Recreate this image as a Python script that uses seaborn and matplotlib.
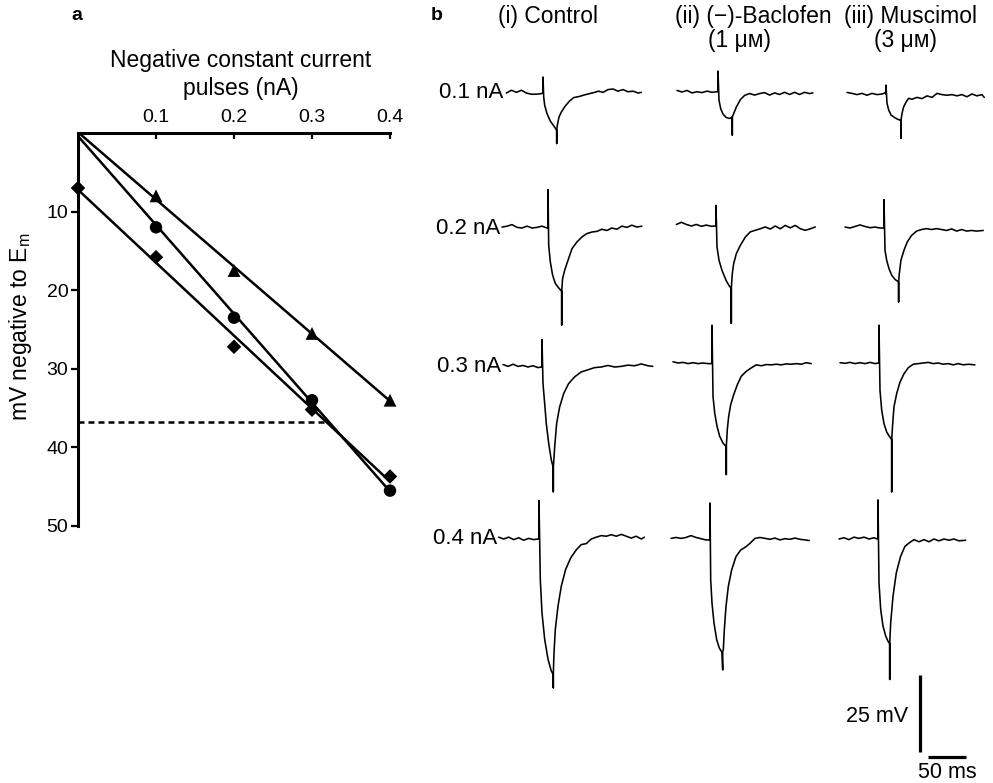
import numpy as np
import seaborn as sns
import matplotlib
matplotlib.use('Agg')
import matplotlib.pyplot as plt

sns.set_theme(style='white')
plt.rcParams['font.family'] = ['Liberation Sans', 'DejaVu Sans']
plt.rcParams['mathtext.fontset'] = 'custom'
plt.rcParams['mathtext.rm'] = 'Liberation Sans'
plt.rcParams['mathtext.it'] = 'Liberation Sans'
plt.rcParams['text.color'] = 'black'
plt.rcParams['xtick.color'] = 'black'
plt.rcParams['ytick.color'] = 'black'

# ---- panel a: voltage deflection vs injected current ----
current_nA = [0.1, 0.2, 0.3, 0.4]
triangles_mv = [8.0, 17.5, 25.5, 34.0]
circles_mv = [12.0, 23.5, 34.0, 45.5]
diamond_current_nA = [0.0, 0.1, 0.2, 0.3, 0.4]
diamonds_mv = [7.0, 15.8, 27.2, 35.2, 43.7]
threshold_mv = 36.8

# ---- panel b: voltage traces, (ms from pulse onset, mV from baseline) ----
control_01 = [(-47.6, 0), (-41, 0.9), (-34.6, 0.2), (-28, 0.9), (-21.7, 0), (-15, -0.4), (-8.7, -0.4),
              (-2.2, -0.2), (0, 0), (0, 5.2), (0.9, -1.3), (2.2, -4), (5.2, -6.7), (9.5, -9.1),
              (14.3, -10.8), (17.8, -12.1), (17.8, -16.4), (17.8, -12.1), (18.6, -10.5), (20.8, -7.8),
              (23.8, -6.2), (29, -4.2), (34.6, -2.6), (39.8, -1.5), (47.6, -1.1), (54.1, -0.6),
              (60.6, -0.2), (67, 0.2), (72.3, 0.6), (78, 0.2), (84.4, 1.1), (91, 1.3), (97.4, 0.6),
              (104, 1.1), (110.5, 0.4), (117, 0.6), (123.5, 0), (127.8, 0.2)]
control_02 = [(-59.8, 0.3), (-53, 0.6), (-46.8, 1.1), (-40.3, 0.2), (-33.8, 0), (-27.3, 0.6), (-20.8, 0),
              (-14.3, 0.2), (-7.8, 0.6), (-1.3, 0), (0, 0), (0, 12.5), (0.9, -5.6), (3, -11), (6, -15.3),
              (9.5, -18), (14.7, -19.7), (17.8, -20.5), (17.8, -31.5), (17.8, -20.5), (19, -16.4),
              (21.7, -13.7), (26, -10.5), (31.2, -6.7), (37.7, -4.5), (44.2, -2.9), (50.6, -1.8),
              (57.2, -1.3), (63.6, -1.1), (70, -0.4), (76.6, -0.8), (83, 0), (89.6, -0.4), (96, 0.6),
              (102.6, 0.2), (109, 0.9), (115.6, 0.3), (122, 0.6)]
control_03 = [(-50.7, 0.8), (-44, 0.2), (-37.7, 0.9), (-31.2, 0.2), (-24.7, 0.5), (-18.2, 0), (-11.7, 0.4),
              (-5.2, -0.2), (-0.9, 0), (0, 0), (0, 8.9), (1.3, -5.4), (3.5, -11.9), (5.6, -18.4),
              (8.7, -24.8), (12.1, -30.2), (14.7, -32.7), (14.7, -40.5), (14.7, -32.7), (16.5, -25.9),
              (19, -18.4), (22.9, -13), (28.2, -8.6), (34.6, -5.4), (42.4, -3.2), (51, -1.6),
              (59.8, -0.9), (68.4, -0.2), (77, 0), (85.8, 0.5), (94.5, 0), (103, 0.2), (111.7, 0.6),
              (120.4, 0.4), (129, 1), (137.8, 0.4), (144, 0.2)]
control_04 = [(-52.4, 0.6), (-45.9, 0), (-39.4, 0.6), (-32.9, -0.2), (-26.4, 0.4), (-19.9, -0.4),
              (-13.4, 0.2), (-6.9, -0.2), (-1.3, 0), (0, 0), (0, 12.5), (1.7, -13.2), (3.9, -24),
              (7.4, -32.6), (11.7, -39), (16, -42.9), (18.6, -44), (18.6, -48.3), (18.6, -44),
              (19.5, -37), (21.2, -29.4), (24.7, -21.8), (29, -15.3), (34.6, -9.9), (41.1, -6.2),
              (48.5, -3.5), (55, -1.8), (61.5, -1.5), (68, 0), (74.5, 0.6), (81, 1.1), (87.5, 0.9),
              (94, 1.4), (100.5, 0.9), (107, 1.5), (113.5, 0.9), (120, 0.3), (126.4, 0.9), (133, 0),
              (137, 0.6)]
baclofen_01 = [(-53.3, 0.5), (-46.8, 0), (-40.3, 0.5), (-33.8, -0.3), (-27.3, 0.1), (-20.8, -0.2),
               (-14.3, 0.3), (-7.8, -0.1), (-1.3, 0.1), (0, 0), (0, 6.8), (1.3, -2.7), (3.5, -5.4),
               (6.5, -7.2), (10.8, -8.3), (15.2, -8.6), (18.6, -8.1), (18.6, -14), (18.6, -8.1),
               (20.4, -7), (23.8, -4.9), (29, -2.5), (34.6, -1.1), (41.1, -0.5), (47.6, -1), (54.1, -0.5),
               (60.6, -0.2), (67.1, -1), (73.6, -0.3), (80, -0.8), (86.6, -0.1), (93, -0.8), (99.6, -0.1),
               (106, -0.8), (112.6, -0.1), (119, -0.5), (123.4, -0.3)]
baclofen_02 = [(-51.5, 0.5), (-45, 1.2), (-38.5, 0.5), (-32, 0), (-25.6, 0.5), (-19, -0.1), (-12.6, 0.3),
               (-6, -0.1), (-0.9, 0), (0, 0), (0, 6.7), (1.3, -6.8), (3.9, -11.1), (7.8, -14.4),
               (13, -17.6), (17.3, -19.5), (19.9, -20.3), (19.9, -31.6), (19.9, -20.3), (21.2, -15.4),
               (23, -12.2), (26.4, -9), (31.6, -6.3), (38.1, -3.6), (44.6, -1.9), (51, -1.4), (57.6, -0.9),
               (64, -0.3), (70.6, -1), (77, 0), (83.6, -0.9), (90, 0.2), (96.7, -0.6), (103, 0.2),
               (109.7, -0.9), (116, -1.4), (122.7, -0.9), (129, -0.3)]
baclofen_03 = [(-50.7, 0.4), (-44.2, 0), (-37.7, 0.2), (-31.2, -0.2), (-24.7, 0.1), (-18.2, -0.2),
               (-11.7, 0), (-5.2, -0.2), (-0.9, -0.2), (0, 0), (0, 12.3), (1.3, -10.8), (3.5, -16.2),
               (6.5, -20.5), (10, -23.8), (14.3, -26), (18.6, -27.2), (18.6, -36.2), (18.6, -27.2),
               (19.9, -21.6), (21.7, -17.3), (24.3, -13.5), (28.2, -10.3), (33, -7), (38.1, -4.3),
               (44.6, -2.7), (51, -1.6), (57.6, -0.6), (64, -0.9), (70.6, -0.5), (77, -0.6), (83.6, -0.4),
               (90, -0.6), (96.6, -0.3), (103, -0.4), (109.7, -0.2), (116, -0.4), (122.7, 0.1), (129, -0.2)]
baclofen_04 = [(-50.7, 0.2), (-44.2, 0.5), (-37.7, 0.2), (-31.2, 0.5), (-24.7, 1.1), (-18.2, 0.5),
               (-11.7, 0.1), (-5.2, -0.3), (-0.9, -0.3), (0, 0), (0, 11.7), (0.9, -13.3), (2.6, -20.8),
               (5.2, -27.3), (8.7, -32.7), (12.1, -35.4), (15.6, -36.8), (16.5, -42.5), (16.5, -36.5),
               (17.3, -36), (18.6, -29.5), (20.8, -21.9), (23.8, -15.4), (28.2, -10), (33.8, -5.7),
               (39.8, -3.6), (46.8, -2.5), (52, -1.4), (58.5, 0.2), (65, 0.5), (71.5, 0.2), (78, -0.1),
               (84.4, 0.3), (91, -0.3), (97.4, 0.1), (104, -0.1), (110.5, 0.3), (117, -0.1),
               (123.4, -0.3), (129, -0.5)]
muscimol_01 = [(-50.7, 0.5), (-44.2, 0.2), (-37.7, -0.2), (-31.2, 0.2), (-24.7, -0.4), (-18.2, 0.2),
               (-11.7, -0.2), (-5.2, 0), (-0.9, 0.4), (0, 0), (0, 2.9), (1.3, -3), (3.5, -5.2), (6.5, -6.8),
               (10.8, -7.6), (15.2, -8.2), (19.5, -8.6), (19.5, -14.4), (19.5, -8.6), (20.8, -6.3),
               (23, -4.1), (26.4, -2.5), (29.4, -1.4), (33.8, -1.7), (40.3, -1.1), (46.8, -1.5),
               (53.3, -0.6), (59.8, -1.1), (66.3, 0.2), (72.7, -0.2), (79.2, -0.4), (85.8, -0.2),
               (92.3, -0.6), (98.7, -0.2), (105.2, -0.9), (111.7, 0), (118.2, -0.6), (124.7, -0.2),
               (127.7, -1.1)]
muscimol_02 = [(-50.7, 0.3), (-44.2, 0), (-37.7, 0.5), (-31.2, 1), (-24.7, 0.5), (-18.2, 0.1),
               (-11.7, 0.3), (-5.2, 0), (-0.9, 0), (0, 0), (0, 9.2), (1.3, -7.2), (3.5, -10.5),
               (6.5, -13.2), (10, -15.3), (14.3, -16.7), (19, -17.5), (19, -24), (19, -17.5),
               (19.9, -14.8), (22, -10.5), (26, -7.2), (30.3, -4.5), (35.9, -2.4), (42.4, -1),
               (48.9, -0.5), (55.4, -0.2), (61.9, -0.5), (68.4, -0.2), (74.9, -0.5), (81.4, -0.8),
               (87.9, -0.3), (94.4, -1), (101, -0.5), (107.4, -1), (114, -0.8), (120.4, -1), (129, -0.8)]
muscimol_03 = [(-50.7, 0.1), (-44.2, -0.1), (-37.7, 0.2), (-31.2, -0.2), (-24.7, 0.1), (-18.2, -0.2),
               (-11.7, 0.2), (-5.2, -0.2), (-0.9, 0), (0, 0), (0, 12.3), (1.3, -8.9), (3.5, -15.3),
               (6.5, -19.7), (10, -22.4), (13.4, -23.8), (16.5, -24.8), (16.5, -41.8), (16.5, -24.8),
               (17.8, -19.7), (19.5, -14.2), (23, -9.9), (27.3, -6.2), (32.5, -3.5), (38.1, -1.5),
               (44.6, -0.4), (51, -0.2), (57.6, 0), (64, 0.2), (70.6, -0.2), (77, 0), (83.6, -0.4),
               (90, -0.2), (96.6, -0.6), (103, -0.2), (109.6, -0.6), (116, -0.4), (124.7, -0.6)]
muscimol_04 = [(-50.7, 0), (-44.2, 0.4), (-37.7, -0.2), (-31.2, 0.6), (-24.7, 0.2), (-18.2, 0.6),
               (-11.7, 0), (-5.2, 0.4), (-0.9, 0), (0, 0), (0, 12.7), (1.3, -14.3), (3.5, -22.9),
               (6.5, -28.3), (10, -31.5), (13, -33.2), (15.2, -33.9), (15.2, -45.6), (15.2, -33.9),
               (16.5, -27.2), (19.5, -18.6), (23.8, -11), (29.4, -5.6), (35, -2.4), (40.3, -1.3),
               (46.8, -0.2), (53.3, -0.9), (59.8, -0.2), (66.3, -0.9), (72.7, 0), (79.2, -0.6),
               (85.8, 0), (92.3, -0.4), (98.7, 0), (105.2, -0.6), (113.9, -0.4)]

row_labels = ['0.1 nA', '0.2 nA', '0.3 nA', '0.4 nA']
col_titles = ['(i) Control', '(ii) (\u2212)-Baclofen', '(iii) Muscimol']
col_doses = ['', '(1 \u03bc\u1d0d)', '(3 \u03bc\u1d0d)']
scale_mv = 25
scale_ms = 50

# ---- layout (pixels of the 993x783 figure) ----
W, H = 993, 783
MS_PER_PX = 1.3
PX_PER_MV = 3.08
onset_px = [[543, 718, 886], [548, 716, 884], [542, 712, 879], [539, 710, 878]]
base_px = [[93, 92, 94], [228, 226, 228], [367, 363, 363], [539, 539, 539]]
row_label_right = [503, 500, 501, 497]


def fx(px):
    return px / W


def fy(py):
    return 1 - py / H


fig = plt.figure(figsize=(W / 100, H / 100), dpi=100)

# panel a
ax = fig.add_axes([fx(78), fy(526), (390 - 78) / W, (526 - 133) / H])
ax.set_xlim(0, 0.4)
ax.set_ylim(50, 0)

# fit lines (triangle & circle series are anchored at rest: 0 nA, 0 mV)
line_kws = dict(color='black', lw=1.8)
sns.regplot(x=[0.0] + current_nA, y=[0.0] + triangles_mv, ci=None, scatter=False,
            truncate=True, line_kws=line_kws, ax=ax)
sns.regplot(x=[0.0] + current_nA, y=[0.0] + circles_mv, ci=None, scatter=False,
            truncate=True, line_kws=line_kws, ax=ax)
sns.regplot(x=diamond_current_nA, y=diamonds_mv, ci=None, scatter=False,
            truncate=True, line_kws=line_kws, ax=ax)

slope, icpt = np.polyfit(diamond_current_nA, diamonds_mv, 1)
ax.plot([0, (threshold_mv - icpt) / slope], [threshold_mv, threshold_mv],
        color='black', lw=1.8, ls=(0, (2.4, 1.6)), clip_on=False)

sns.scatterplot(x=current_nA, y=triangles_mv, marker='^', s=85, color='black',
                edgecolor='none', clip_on=False, zorder=5, ax=ax)
sns.scatterplot(x=current_nA, y=circles_mv, marker='o', s=80, color='black',
                edgecolor='none', clip_on=False, zorder=5, ax=ax)
sns.scatterplot(x=diamond_current_nA, y=diamonds_mv, marker='D', s=55, color='black',
                edgecolor='none', clip_on=False, zorder=5, ax=ax)

for side in ['right', 'bottom']:
    ax.spines[side].set_visible(False)
for side in ['left', 'top']:
    ax.spines[side].set_linewidth(2.2)
    ax.spines[side].set_color('black')
ax.set_xticks(current_nA)
ax.set_xticklabels(['0.1', '0.2', '0.3', '0.4'])
ax.set_yticks([10, 20, 30, 40, 50])
ax.tick_params(axis='x', top=True, bottom=False, labeltop=True, labelbottom=False,
               direction='in', length=4, width=1.6, pad=5, labelsize=14)
ax.tick_params(axis='y', left=True, direction='out', length=5, width=1.6, pad=2,
               labelsize=14)
ax.set_xlabel('')
ax.set_ylabel('')

fig.text(fx(241), fy(60), 'Negative constant current', ha='center', va='center', fontsize=16.5)
fig.text(fx(241), fy(88), 'pulses (nA)', ha='center', va='center', fontsize=16.5)
fig.text(fx(21), fy(327), 'mV negative to E$_\\mathrm{m}$', rotation=90, ha='center',
         va='center', fontsize=16.5)
fig.text(fx(77), fy(15), 'a', fontsize=14, fontweight='bold', ha='center', va='center')

# panel b
axb = fig.add_axes([fx(480), 0, (W - 480) / W, 1])
axb.set_xlim(0, (W - 480) * MS_PER_PX)
axb.set_ylim(0, H / PX_PER_MV)
axb.axis('off')

traces = [[control_01, baclofen_01, muscimol_01],
          [control_02, baclofen_02, muscimol_02],
          [control_03, baclofen_03, muscimol_03],
          [control_04, baclofen_04, muscimol_04]]

for r, row in enumerate(traces):
    for c, tr in enumerate(row):
        x0 = (onset_px[r][c] - 480) * MS_PER_PX
        y0 = (H - base_px[r][c]) / PX_PER_MV
        t = np.array([p[0] for p in tr]) + x0
        v = np.array([p[1] for p in tr]) + y0
        sns.lineplot(x=t, y=v, sort=False, estimator=None, color='black', lw=1.15, ax=axb)
    fig.text(fx(row_label_right[r]), fy(base_px[r][0]), row_labels[r], ha='right',
             va='center', fontsize=16)

# scale bars
bx = (920 - 480) * MS_PER_PX
by = (H - 752) / PX_PER_MV
axb.plot([bx, bx], [by, by + scale_mv], color='black', lw=2.3, solid_capstyle='butt')
hx = (928 - 480) * MS_PER_PX
hy = (H - 757) / PX_PER_MV
axb.plot([hx, hx + scale_ms], [hy, hy], color='black', lw=2.3, solid_capstyle='butt')
fig.text(fx(908), fy(716), f'{scale_mv} mV', ha='right', va='center', fontsize=15.5)
fig.text(fx(947), fy(772), f'{scale_ms} ms', ha='center', va='center', fontsize=15.5)

fig.text(fx(437), fy(15), 'b', fontsize=14, fontweight='bold', ha='center', va='center')
title_x = [548, 753, 910]
dose_x = [548, 739, 905]
for i in range(3):
    fig.text(fx(title_x[i]), fy(16), col_titles[i], ha='center', va='center', fontsize=16.5)
    if col_doses[i]:
        fig.text(fx(dose_x[i]), fy(40), col_doses[i], ha='center', va='center', fontsize=16.5)

fig.savefig('out.png', dpi=100)
